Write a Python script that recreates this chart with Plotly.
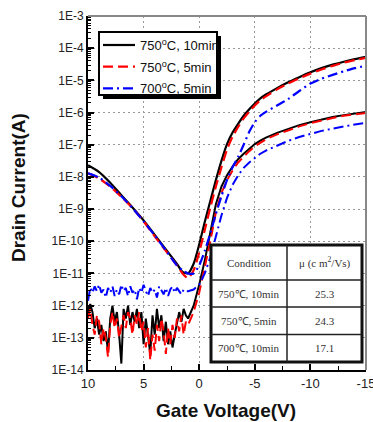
import plotly.graph_objects as go

# ---------------- data (log10 of drain current) ----------------
vg_high = [10, 9, 8, 7, 6, 5, 4, 3, 2, 1.5, 1, 0.5, 0, -0.5, -1, -1.5, -2, -2.5, -3, -3.5,
           -4, -4.5, -5, -5.5, -6, -7, -8, -9, -10, -11, -12, -13, -14, -15]

logid_high_750_10 = [-7.64, -7.85, -8.18, -8.57, -8.95, -9.35, -9.8, -10.25, -10.7, -10.95,
                     -11.0, -10.7, -10.1, -9.4, -8.75, -8.1, -7.5, -6.98, -6.62, -6.35,
                     -6.1, -5.9, -5.72, -5.56, -5.44, -5.24, -5.06, -4.9, -4.75, -4.62,
                     -4.51, -4.42, -4.34, -4.27]
logid_high_750_5 = [-7.89, -8.05, -8.3, -8.62, -8.97, -9.38, -9.85, -10.3, -10.75, -11.0,
                    -11.15, -10.9, -10.35, -9.65, -8.95, -8.3, -7.7, -7.15, -6.75, -6.45,
                    -6.18, -5.97, -5.78, -5.62, -5.5, -5.28, -5.1, -4.94, -4.79, -4.66,
                    -4.55, -4.45, -4.37, -4.3]
logid_high_700_5 = [-7.89, -8.02, -8.28, -8.6, -8.97, -9.38, -9.82, -10.28, -10.75, -10.9,
                    -11.0, -11.0, -10.75, -10.3, -9.75, -9.15, -8.6, -8.1, -7.7, -7.38,
                    -7.0, -6.6, -6.3, -6.1, -5.98, -5.78, -5.58, -5.33, -5.1, -4.95,
                    -4.83, -4.72, -4.62, -4.55]

vg_low = [10.0, 9.8, 9.6, 9.4, 9.2, 9.0, 8.8, 8.6, 8.4, 8.2, 8.0, 7.8, 7.6, 7.4, 7.2,
          7.0, 6.8, 6.6, 6.4, 6.2, 6.0, 5.8, 5.6, 5.4, 5.2, 5.0, 4.8, 4.6, 4.4, 4.2,
          4.0, 3.8, 3.6, 3.4, 3.2, 3.0, 2.8, 2.6, 2.4, 2.2, 2.0, 1.8, 1.6, 1.4, 1.2,
          1.0, 0.5, 0, -0.5, -1, -1.5, -2, -2.5, -3, -3.5, -4, -4.5, -5, -5.5, -6,
          -7, -8, -9, -10, -11, -12, -13, -14, -15]

logid_low_750_10 = [-12.3, -11.95, -12.2, -12.7, -12.4, -12.9, -12.6, -13.1, -12.8, -13.45,
                    -12.4, -12.0, -12.5, -12.2, -12.9, -13.8, -12.1, -12.4, -12.0, -12.6,
                    -12.2, -12.5, -12.1, -12.7, -12.2, -13.2, -12.4, -13.0, -13.5, -12.3,
                    -12.9, -12.1, -12.7, -12.3, -13.1, -12.5, -13.2, -12.8, -13.3, -12.9,
                    -12.5, -12.2, -12.5, -12.1, -12.3,
                    -12.4, -12.0, -11.35, -10.6, -9.75, -8.85, -8.3, -7.95, -7.68, -7.45,
                    -7.28, -7.12, -6.98, -6.87, -6.78, -6.63, -6.5, -6.39, -6.3, -6.21,
                    -6.14, -6.08, -6.02, -5.98]
logid_low_750_5 = [-12.4, -12.1, -12.6, -12.9, -12.3, -12.5, -13.2, -12.7, -13.0, -13.6,
                   -12.6, -12.2, -12.7, -12.4, -13.0, -12.6, -12.3, -12.7, -12.2, -12.4,
                   -12.9, -12.3, -12.6, -12.2, -12.8, -12.5, -13.3, -12.7, -13.7, -12.9,
                   -13.4, -12.6, -13.1, -12.4, -12.8, -13.5, -12.7, -13.2, -12.6, -13.0,
                   -12.4, -12.8, -12.3, -12.9, -12.5,
                   -12.6, -12.2, -11.6, -10.85, -10.0, -9.1, -8.5, -8.1, -7.8, -7.55,
                   -7.36, -7.2, -7.05, -6.93, -6.83, -6.68, -6.55, -6.43, -6.33, -6.24,
                   -6.17, -6.1, -6.05, -6.01]
logid_low_700_5 = [-11.85, -11.45, -11.6, -11.4, -11.55, -11.35, -11.6, -11.5, -11.75, -11.45,
                   -11.6, -11.4, -11.7, -11.5, -11.65, -11.35, -11.55, -11.45, -11.7, -11.4,
                   -11.6, -11.5, -11.8, -11.45, -11.6, -11.35, -11.55, -11.7, -11.45, -11.6,
                   -11.5, -11.75, -11.4, -11.55, -11.65, -11.45, -11.7, -11.5, -11.4, -11.6,
                   -11.45, -11.55, -11.65, -11.5, -11.55,
                   -11.55, -11.5, -11.35, -11.0, -10.5, -9.85, -9.2, -8.65, -8.25, -7.95,
                   -7.72, -7.55, -7.4, -7.28, -7.18, -7.02, -6.88, -6.76, -6.66, -6.57,
                   -6.5, -6.43, -6.37, -6.32]

legend_names = ["750<sup>o</sup>C, 10min", "750<sup>o</sup>C, 5min", "700<sup>o</sup>C, 5min"]
series_colors = ["#000000", "#ff0000", "#0000ff"]
series_dash = ["solid", "10px,5px", "10px,4px,2px,4px"]

y_tick_exp = [-3, -4, -5, -6, -7, -8, -9, -10, -11, -12, -13, -14]
y_tick_text = ["1E-3", "1E-4", "1E-5", "1E-6", "1E-7", "1E-8", "1E-9", "1E-10",
               "1E-11", "1E-12", "1E-13", "1E-14"]
x_tick_vals = [10, 5, 0, -5, -10, -15]

table_header = ["Condition", "μ (c m<sup>2</sup>/Vs)"]
table_conditions = ["750℃, 10min", "750℃, 5min", "700℃, 10min"]
table_mobility = ["25.3", "24.3", "17.1"]

# ---------------- figure ----------------
W, H = 373, 422
L, R, T, B = 88, 366, 16, 370   # plot area in pixels


def X(px):
    return (px - L) / (R - L)


def Y(py):
    return (B - py) / (B - T)


fig = go.Figure()

high_sets = [logid_high_750_10, logid_high_750_5, logid_high_700_5]
low_sets = [logid_low_750_10, logid_low_750_5, logid_low_700_5]
for i in range(3):
    fig.add_trace(go.Scatter(
        x=vg_high, y=[10 ** v for v in high_sets[i]], mode="lines",
        line=dict(color=series_colors[i], width=2.2, dash=series_dash[i], shape="spline", smoothing=0.6),
        showlegend=False, hoverinfo="skip"))
    fig.add_trace(go.Scatter(
        x=vg_low, y=[10 ** v for v in low_sets[i]], mode="lines",
        line=dict(color=series_colors[i], width=2.0, dash=series_dash[i]),
        showlegend=False, hoverinfo="skip"))

tickfont = dict(family="Liberation Sans, Arial, sans-serif", size=12, color="#222")

fig.update_xaxes(
    range=[10, -15], tickvals=x_tick_vals, ticktext=[str(v) for v in x_tick_vals],
    ticks="inside", ticklen=6, tickwidth=1.5, tickcolor="black",
    showline=True, linecolor="black", linewidth=2,
    showgrid=True, gridcolor="#999", gridwidth=1, griddash="2px,3px",
    zeroline=False, automargin=False, ticklabeloverflow="allow",
    tickfont=dict(family="Liberation Sans, Arial, sans-serif", size=13, color="#222"),
    minor=dict(ticks="inside", ticklen=4, tickwidth=1, tickcolor="black", dtick=2.5, tick0=0, showgrid=False),
)
fig.update_yaxes(
    type="log", range=[-14, -3],
    tickvals=[10 ** e for e in y_tick_exp], ticktext=y_tick_text,
    ticks="inside", ticklen=6, tickwidth=1.5, tickcolor="black",
    showline=True, linecolor="black", linewidth=2,
    showgrid=True, gridcolor="#999", gridwidth=1, griddash="2px,3px",
    zeroline=False, automargin=False, ticklabeloverflow="allow", tickfont=tickfont,
    minor=dict(ticks="inside", ticklen=3, tickwidth=1, tickcolor="black", dtick="D1", showgrid=False),
)

shapes = []
# gray top/right frame
shapes.append(dict(type="line", xref="paper", yref="paper", x0=0, x1=1, y0=1, y1=1,
                   line=dict(color="#888", width=2), layer="above"))
shapes.append(dict(type="line", xref="paper", yref="paper", x0=1, x1=1, y0=0, y1=1,
                   line=dict(color="#888", width=2), layer="above"))

# legend box with shadow
shapes.append(dict(type="rect", xref="paper", yref="paper", x0=X(103), x1=X(221), y0=Y(99), y1=Y(36),
                   fillcolor="black", line=dict(width=0), layer="above"))
shapes.append(dict(type="rect", xref="paper", yref="paper", x0=X(99), x1=X(217), y0=Y(95), y1=Y(32),
                   fillcolor="white", line=dict(color="black", width=2), layer="above"))
legend_rows = [45, 66.7, 88.3]
annotations = []
for i in range(3):
    shapes.append(dict(type="line", xref="paper", yref="paper", x0=X(103), x1=X(135),
                       y0=Y(legend_rows[i]), y1=Y(legend_rows[i]),
                       line=dict(color=series_colors[i], width=2.2, dash=series_dash[i]), layer="above"))
    annotations.append(dict(xref="paper", yref="paper", x=X(138), y=Y(legend_rows[i]),
                            text=legend_names[i], showarrow=False, xanchor="left", yanchor="middle",
                            font=dict(family="Liberation Sans, Arial, sans-serif", size=13, color="#111")))

# table
tx0, tx1, tcol = 211, 362, 287
ty0, ty1 = 245, 362
row_lines = [280, 307, 334.5]
shapes.append(dict(type="rect", xref="paper", yref="paper", x0=X(tx0), x1=X(tx1), y0=Y(ty1), y1=Y(ty0),
                   fillcolor="white", line=dict(color="#111", width=3), layer="above"))
shapes.append(dict(type="line", xref="paper", yref="paper", x0=X(tcol), x1=X(tcol), y0=Y(ty1), y1=Y(ty0),
                   line=dict(color="#222", width=1.5), layer="above"))
for ry in row_lines:
    shapes.append(dict(type="line", xref="paper", yref="paper", x0=X(tx0), x1=X(tx1), y0=Y(ry), y1=Y(ry),
                       line=dict(color="#222", width=1.5), layer="above"))
c1 = (tx0 + tcol) / 2
c2 = (tcol + tx1) / 2
row_centers = [(ty0 + row_lines[0]) / 2, (row_lines[0] + row_lines[1]) / 2,
               (row_lines[1] + row_lines[2]) / 2, (row_lines[2] + ty1) / 2]
tfont = dict(family="Liberation Serif, Times New Roman, serif", size=11, color="#333")
annotations.append(dict(xref="paper", yref="paper", x=X(c1), y=Y(row_centers[0]), text=table_header[0],
                        showarrow=False, font=tfont, xanchor="center", yanchor="middle"))
annotations.append(dict(xref="paper", yref="paper", x=X(c2), y=Y(row_centers[0]), text=table_header[1],
                        showarrow=False, font=tfont, xanchor="center", yanchor="middle"))
for i in range(3):
    annotations.append(dict(xref="paper", yref="paper", x=X(c1), y=Y(row_centers[i + 1]),
                            text=table_conditions[i], showarrow=False, font=tfont,
                            xanchor="center", yanchor="middle"))
    annotations.append(dict(xref="paper", yref="paper", x=X(c2), y=Y(row_centers[i + 1]),
                            text=table_mobility[i], showarrow=False, font=tfont,
                            xanchor="center", yanchor="middle"))

# axis titles
title_font = dict(family="Liberation Sans, Arial, sans-serif", size=19, color="#111")
annotations.append(dict(xref="paper", yref="paper", x=X(18), y=Y(188), text="<b>Drain Current(A)</b>",
                        textangle=-90, showarrow=False, font=title_font, xanchor="center", yanchor="middle"))
annotations.append(dict(xref="paper", yref="paper", x=X(226), y=Y(410), text="<b>Gate Voltage(V)</b>",
                        showarrow=False, font=title_font, xanchor="center", yanchor="middle"))

fig.update_layout(
    width=W, height=H,
    margin=dict(l=L, r=W - R, t=T, b=H - B, pad=0, autoexpand=False),
    paper_bgcolor="white", plot_bgcolor="white",
    shapes=shapes, annotations=annotations, showlegend=False,
)

fig.write_html("out.html", config={"displayModeBar": False},
               post_script="document.body.style.margin='0';document.body.style.overflow='hidden';")
